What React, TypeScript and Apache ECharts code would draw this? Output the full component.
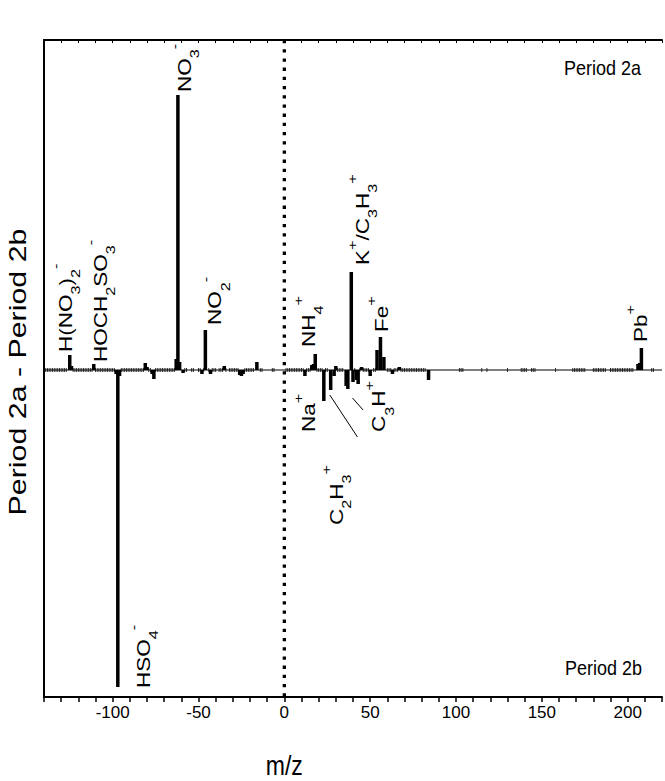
import React, { useEffect, useRef } from "react";
import * as echarts from "echarts";

const FONT = "'Liberation Sans', Arial, Helvetica, sans-serif";

// x axis
const X_MIN = -140;
const X_MAX = 220;
const X_STEP = 10;
const X_LABEL_STEP = 50;
// y axis (difference in arbitrary units)
const Y_MIN = -327;
const Y_MAX = 330;

// anion peaks (negative m/z) : Period 2a - Period 2b
const anionMz = [-125, -124, -111, -98, -97, -96, -81, -80, -77, -76, -63, -62, -61, -59, -48, -46, -43, -35, -26, -25, -24, -16];
const anionDiff = [15, 4, 6, -4, -317, -6, 7, 3, -4, -9, 11, 275, 8, -3, -4, 40, -4, 4, -5, -6, -4, 8];

// cation peaks (positive m/z)
const cationMz = [12, 16, 17, 18, 23, 27, 29, 30, 36, 37, 39, 40, 42, 43, 45, 50, 54, 56, 58, 63, 67, 84, 206, 207, 208];
const cationDiff = [-6, 5, 6, 16, -31, -20, -6, 4, -16, -19, 98, -12, -10, -14, 3, -6, 20, 33, 13, -4, 3, -10, 6, 7, 22];

// tiny baseline marks (m/z where a near-zero difference is drawn)
const baselineMarkMz = [
  -139, -138, -137, -136, -135, -134, -133, -132, -131, -130, -129, -128, -127,
  -123, -122, -121, -120, -119, -118, -117, -116, -115, -114, -113, -112,
  -110, -109, -108, -107, -106, -105, -104, -103, -102, -101, -100, -99,
  -95, -94, -93, -92, -91, -90, -89, -88, -87, -86, -85, -84, -83, -82,
  -79, -78, -75, -74, -73, -72, -71, -70, -69, -68, -67, -66, -65, -64,
  -58, -57, -54, -53, -50, -49, -47, -44, -42, -41, -40, -38, -37, -36, -34,
  -32, -31, -30, -29, -28, -27, -23, -22, -21, -20, -19, -18, -14, -13, -7, -6,
  1, 2, 3, 4, 5, 6, 7, 8, 9, 10, 11, 13, 14, 15, 19, 20, 21, 22, 24, 25,
  31, 32, 33, 34, 41, 44, 46, 47, 48, 49, 52, 53, 60, 61, 62, 64, 65, 66,
  68, 69, 70, 71, 72, 73, 74, 75, 76, 77, 78, 79, 80, 81, 82,
  102, 103, 104, 115, 118, 130, 138, 139, 140, 141, 144, 145, 146, 158,
  168, 169, 170, 171, 172, 173, 174, 175, 180, 181, 182, 183, 184, 185, 186, 187,
  190, 191, 192, 193, 194, 195, 196, 197, 198, 199, 200, 201, 202, 203, 214, 215,
];

// ion labels (rich text) and their anchor in data coordinates (text start)
const ionLabels = [
  "{n|NO}{b|3}{t|-}",
  "{n|H(NO}{b|3}{n|)}{b|2}{t|-}",
  "{n|HOCH}{b|2}{n|SO}{b|3}{t|-}",
  "{n|NO}{b|2}{t|-}",
  "{n|HSO}{b|4}{t|-}",
  "{n|NH}{b|4}{t|+}",
  "{n|K}{t|+}{n|/C}{b|3}{n|H}{b|3}{t|+}",
  "{n|Fe}{t|+}",
  "{n|Na}{t|+}",
  "{n|C}{b|3}{n|H}{t|+}",
  "{n|C}{b|2}{n|H}{b|3}{t|+}",
  "{n|Pb}{t|+}",
];
const ionLabelMz = [-58.2, -127.3, -106.8, -40.3, -81.8, 14.4, 45.5, 56.5, 14.4, 55.3, 30.5, 207.4];
const ionLabelDiff = [278, 18, 8, 45, -318, 23, 105, 38, -62, -62, -155, 28];

// leader lines for C2H3+ and C3H+
const leaderStartMz = [26.5, 39.7];
const leaderStartDiff = [-25, -28];
const leaderEndMz = [42.6, 45.9];
const leaderEndDiff = [-67, -40];

const yTitle = "Period 2a - Period 2b";
const xTitle = "m/z";
const periodTop = "Period 2a";
const periodBottom = "Period 2b";

export default function App() {
  const ref = useRef<HTMLDivElement | null>(null);

  useEffect(() => {
    document.body.style.margin = "0";
    if (!ref.current) return;
    const chart = echarts.init(ref.current, undefined, { renderer: "svg" });

    const barData = [
      ...anionMz.map((m, i) => [m, anionDiff[i]]),
      ...cationMz.map((m, i) => [m, cationDiff[i]]),
    ];
    const markData = baselineMarkMz.map((m) => [m, 0]);

    const leaderSeries = leaderStartMz.map((m, i) => ({
      type: "line",
      data: [
        [m, leaderStartDiff[i]],
        [leaderEndMz[i], leaderEndDiff[i]],
      ],
      symbol: "none",
      silent: true,
      lineStyle: { color: "#000", width: 1 },
      z: 4,
    }));

    const xCommon = {
      type: "value",
      min: X_MIN,
      max: X_MAX,
      interval: X_STEP,
      splitLine: { show: false },
    };

    chart.setOption({
      animation: false,
      grid: { left: 44, right: -4, top: 40, bottom: 84 },
      xAxis: [
        {
          ...xCommon,
          position: "bottom",
          axisLine: { show: true, onZero: false, lineStyle: { color: "#000", width: 2 } },
          axisTick: { show: true, inside: false, length: 5, lineStyle: { color: "#000", width: 1.5 } },
          axisLabel: {
            show: true,
            margin: 7,
            color: "#000",
            fontSize: 17,
            fontFamily: FONT,
            formatter: (v: number) => (Math.round(v) % X_LABEL_STEP === 0 ? String(Math.round(v)) : ""),
          },
        },
        {
          ...xCommon,
          position: "top",
          axisLine: { show: true, onZero: false, lineStyle: { color: "#000", width: 2 } },
          axisTick: { show: true, inside: true, length: 3, lineStyle: { color: "#000", width: 1 } },
          axisLabel: { show: false },
        },
      ],
      yAxis: {
        type: "value",
        min: Y_MIN,
        max: Y_MAX,
        axisLine: { show: true, onZero: false, lineStyle: { color: "#000", width: 2 } },
        axisTick: { show: false },
        axisLabel: { show: false },
        splitLine: { show: false },
      },
      series: [
        {
          type: "line",
          data: [
            [X_MIN, 0],
            [X_MAX, 0],
          ],
          symbol: "none",
          silent: true,
          lineStyle: { color: "#000", width: 1 },
          z: 1,
        },
        {
          type: "line",
          data: [
            [0, Y_MAX],
            [0, Y_MIN],
          ],
          symbol: "none",
          silent: true,
          lineStyle: { color: "#000", width: 3.3, type: [3.3, 5.9], cap: "butt" },
          z: 2,
        },
        {
          type: "scatter",
          data: markData,
          symbol: "rect",
          symbolSize: [1, 4],
          silent: true,
          itemStyle: { color: "#000" },
          z: 3,
        },
        {
          type: "bar",
          data: barData,
          barWidth: 3.5,
          silent: true,
          itemStyle: { color: "#000" },
          z: 5,
        },
        ...leaderSeries,
      ],
    });

    const rich = {
      n: { fontSize: 18, lineHeight: 33, verticalAlign: "middle", fontFamily: FONT, fill: "#000" },
      b: { fontSize: 13, lineHeight: 13, verticalAlign: "bottom", fontFamily: FONT, fill: "#000" },
      t: { fontSize: 13, lineHeight: 9, verticalAlign: "top", fontFamily: FONT, fill: "#000" },
    };

    const labelGraphics = ionLabels.map((t, i) => {
      const p = chart.convertToPixel({ xAxisIndex: 0, yAxisIndex: 0 }, [ionLabelMz[i], ionLabelDiff[i]]) as number[];
      return {
        type: "text",
        x: p[0],
        y: p[1],
        rotation: Math.PI / 2,
        scaleX: 1.25,
        silent: true,
        z: 10,
        style: {
          text: t,
          rich,
          align: "left",
          verticalAlign: "middle",
          fill: "#000",
          fontFamily: FONT,
          fontSize: 18,
        },
      };
    });

    const zeroPx = chart.convertToPixel({ xAxisIndex: 0, yAxisIndex: 0 }, [0, 0]) as number[];

    chart.setOption({
      graphic: [
        ...labelGraphics,
        {
          type: "text",
          x: 18,
          y: 372,
          rotation: Math.PI / 2,
          scaleX: 1.32,
          silent: true,
          style: { text: yTitle, align: "center", verticalAlign: "middle", fill: "#000", fontSize: 23, fontFamily: FONT },
        },
        {
          type: "text",
          x: zeroPx[0],
          y: 765,
          scaleY: 1.2,
          silent: true,
          style: { text: xTitle, align: "center", verticalAlign: "middle", fill: "#000", fontSize: 23, fontFamily: FONT },
        },
        {
          type: "text",
          x: 641,
          y: 68,
          scaleY: 1.15,
          silent: true,
          style: { text: periodTop, align: "right", verticalAlign: "middle", fill: "#000", fontSize: 18, fontFamily: FONT },
        },
        {
          type: "text",
          x: 642,
          y: 668,
          scaleY: 1.15,
          silent: true,
          style: { text: periodBottom, align: "right", verticalAlign: "middle", fill: "#000", fontSize: 18, fontFamily: FONT },
        },
      ],
    });

    return () => {
      chart.dispose();
    };
  }, []);

  return <div ref={ref} style={{ width: 665, height: 781 }} />;
}
